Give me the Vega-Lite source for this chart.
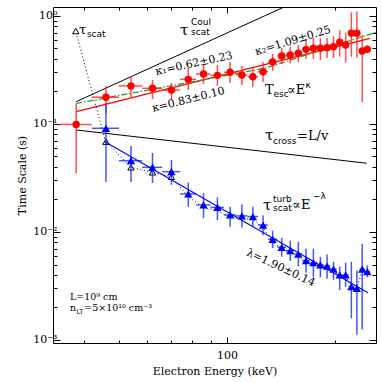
{
  "$schema": "https://vega.github.io/schema/vega-lite/v6.json",
  "width": 323,
  "height": 336,
  "autosize": "none",
  "padding": {"left": 53, "top": 7, "right": 6, "bottom": 39},
  "background": "white",
  "config": {
    "view": {"stroke": "#000", "strokeWidth": 1},
    "axis": {"grid": false, "domain": false, "tickColor": "#000", "labelColor": "#000", "titleColor": "#000", "labelFont": "DejaVu Serif", "titleFont": "DejaVu Serif", "labelFontSize": 11, "titleFontSize": 11, "titleFontWeight": "normal", "tickWidth": 1}
  },
  "datasets": {
    "red": [
      {"E":38,"T":0.099,"lo":0.035,"hi":0.156,"elo":34,"ehi":42},
      {"E":46,"T":0.177,"lo":0.125,"hi":0.225,"elo":42,"ehi":50},
      {"E":54,"T":0.225,"lo":0.178,"hi":0.278,"elo":50,"ehi":58},
      {"E":62,"T":0.214,"lo":0.170,"hi":0.256,"elo":58,"ehi":66},
      {"E":70,"T":0.206,"lo":0.167,"hi":0.240,"elo":66,"ehi":74},
      {"E":78,"T":0.259,"lo":0.206,"hi":0.330,"elo":74,"ehi":82},
      {"E":86,"T":0.290,"lo":0.235,"hi":0.360,"elo":82,"ehi":90},
      {"E":94,"T":0.282,"lo":0.225,"hi":0.350,"elo":90,"ehi":98},
      {"E":102,"T":0.301,"lo":0.240,"hi":0.375,"elo":98,"ehi":106},
      {"E":110,"T":0.284,"lo":0.230,"hi":0.345,"elo":106,"ehi":114},
      {"E":118,"T":0.274,"lo":0.220,"hi":0.337,"elo":114,"ehi":122},
      {"E":126,"T":0.305,"lo":0.245,"hi":0.375,"elo":122,"ehi":130},
      {"E":134,"T":0.375,"lo":0.310,"hi":0.445,"elo":130,"ehi":138},
      {"E":142,"T":0.426,"lo":0.360,"hi":0.505,"elo":138,"ehi":146},
      {"E":150,"T":0.435,"lo":0.365,"hi":0.515,"elo":146,"ehi":154},
      {"E":158,"T":0.451,"lo":0.375,"hi":0.540,"elo":154,"ehi":162},
      {"E":166,"T":0.491,"lo":0.400,"hi":0.600,"elo":162,"ehi":170},
      {"E":174,"T":0.502,"lo":0.400,"hi":0.625,"elo":170,"ehi":178},
      {"E":182,"T":0.502,"lo":0.390,"hi":0.625,"elo":178,"ehi":186},
      {"E":190,"T":0.509,"lo":0.410,"hi":0.625,"elo":186,"ehi":194},
      {"E":198,"T":0.520,"lo":0.410,"hi":0.650,"elo":194,"ehi":202},
      {"E":206,"T":0.571,"lo":0.420,"hi":0.740,"elo":202,"ehi":210},
      {"E":214,"T":0.539,"lo":0.370,"hi":0.700,"elo":210,"ehi":218},
      {"E":222,"T":0.691,"lo":0.420,"hi":1.080,"elo":218,"ehi":226},
      {"E":230,"T":0.691,"lo":0.410,"hi":1.100,"elo":226,"ehi":234},
      {"E":238,"T":0.474,"lo":0.160,"hi":0.667,"elo":234,"ehi":242},
      {"E":246,"T":0.491,"lo":0.455,"hi":0.540,"elo":242,"ehi":250}
    ],
    "blue": [
      {"E":46,"T":0.0912,"lo":0.029,"hi":0.156,"elo":42,"ehi":50},
      {"E":54,"T":0.0457,"lo":0.029,"hi":0.0625,"elo":50,"ehi":58},
      {"E":62,"T":0.0397,"lo":0.0284,"hi":0.054,"elo":58,"ehi":66},
      {"E":70,"T":0.0362,"lo":0.0273,"hi":0.0464,"elo":66,"ehi":74},
      {"E":78,"T":0.0225,"lo":0.0171,"hi":0.0287,"elo":74,"ehi":82},
      {"E":86,"T":0.0178,"lo":0.0135,"hi":0.0229,"elo":82,"ehi":90},
      {"E":94,"T":0.0169,"lo":0.0129,"hi":0.021,"elo":90,"ehi":98},
      {"E":102,"T":0.0144,"lo":0.0112,"hi":0.0171,"elo":98,"ehi":106},
      {"E":110,"T":0.0141,"lo":0.011,"hi":0.018,"elo":106,"ehi":114},
      {"E":118,"T":0.0139,"lo":0.0112,"hi":0.0171,"elo":114,"ehi":122},
      {"E":126,"T":0.0116,"lo":0.0094,"hi":0.0143,"elo":122,"ehi":130},
      {"E":134,"T":0.00856,"lo":0.0071,"hi":0.0103,"elo":130,"ehi":138},
      {"E":142,"T":0.00722,"lo":0.0059,"hi":0.0088,"elo":138,"ehi":146},
      {"E":150,"T":0.00671,"lo":0.0054,"hi":0.0083,"elo":146,"ehi":154},
      {"E":158,"T":0.00625,"lo":0.0048,"hi":0.0081,"elo":154,"ehi":162},
      {"E":166,"T":0.00542,"lo":0.0042,"hi":0.007,"elo":162,"ehi":170},
      {"E":174,"T":0.0052,"lo":0.0038,"hi":0.007,"elo":170,"ehi":178},
      {"E":182,"T":0.00495,"lo":0.0038,"hi":0.0059,"elo":178,"ehi":186},
      {"E":190,"T":0.00484,"lo":0.0037,"hi":0.0062,"elo":186,"ehi":194},
      {"E":198,"T":0.00452,"lo":0.0036,"hi":0.0053,"elo":194,"ehi":202},
      {"E":206,"T":0.0040,"lo":0.0029,"hi":0.0048,"elo":202,"ehi":210},
      {"E":214,"T":0.0040,"lo":0.0031,"hi":0.0052,"elo":210,"ehi":218},
      {"E":222,"T":0.00312,"lo":0.00159,"hi":0.0053,"elo":218,"ehi":226},
      {"E":230,"T":0.00301,"lo":0.00112,"hi":0.0044,"elo":226,"ehi":234},
      {"E":238,"T":0.00452,"lo":0.00125,"hi":0.0078,"elo":234,"ehi":242},
      {"E":246,"T":0.0043,"lo":0.0038,"hi":0.0049,"elo":242,"ehi":250}
    ],
    "open": [
      {"E":46,"T":0.0686},{"E":54,"T":0.0397},{"E":62,"T":0.0357},{"E":70,"T":0.0325},
      {"E":78,"T":0.0212},{"E":86,"T":0.0168},{"E":94,"T":0.0158},{"E":102,"T":0.0136},
      {"E":110,"T":0.0133},{"E":118,"T":0.0131},{"E":126,"T":0.0110},{"E":134,"T":0.0081},
      {"E":142,"T":0.0069},{"E":150,"T":0.0064},{"E":158,"T":0.0060},{"E":166,"T":0.0052},
      {"E":174,"T":0.0050},{"E":182,"T":0.0048},{"E":190,"T":0.0047},{"E":198,"T":0.0044},
      {"E":206,"T":0.0039},{"E":214,"T":0.0039},{"E":222,"T":0.0031},{"E":230,"T":0.0030},
      {"E":238,"T":0.0044},{"E":246,"T":0.0042}
    ],
    "fits": [
      {"s":"coul","E":38,"T":0.161},{"s":"coul","E":148,"T":1.26},
      {"s":"cross","E":38,"T":0.088},{"s":"cross","E":245,"T":0.0433},
      {"s":"red","E":38,"T":0.130},{"s":"red","E":250,"T":0.621},
      {"s":"green","E":38,"T":0.155},{"s":"green","E":128,"T":0.329},{"s":"green","E":260,"T":0.707},
      {"s":"blue","E":45.7,"T":0.0686},{"s":"blue","E":247,"T":0.00274},
      {"s":"pointer","E":38.2,"T":0.65},{"s":"pointer","E":45.7,"T":0.072}
    ]
  },
  "resolve": {"axis": {"x": "independent", "y": "independent"}},
  "layer": [
    {
      "data": {"name": "fits"},
      "transform": [{"filter": "datum.s == 'coul' || datum.s == 'cross'"}],
      "mark": {"type": "line", "color": "#000", "strokeWidth": 1, "clip": true},
      "encoding": {
        "x": {"field": "E", "type": "quantitative", "scale": {"type": "log", "domain": [32.75, 260], "nice": false}, "axis": null},
        "y": {"field": "T", "type": "quantitative", "scale": {"type": "log", "domain": [0.000938, 1.211], "nice": false}, "axis": null},
        "detail": {"field": "s"}
      }
    },
    {
      "data": {"name": "fits"},
      "transform": [{"filter": "datum.s == 'pointer'"}],
      "mark": {"type": "line", "color": "#000", "strokeWidth": 1, "strokeDash": [1, 2.5], "clip": true},
      "encoding": {
        "x": {"field": "E", "type": "quantitative", "scale": {"type": "log", "domain": [32.75, 260], "nice": false}, "axis": null},
        "y": {"field": "T", "type": "quantitative", "scale": {"type": "log", "domain": [0.000938, 1.211], "nice": false}, "axis": null}
      }
    },
    {
      "data": {"name": "open"},
      "mark": {"type": "line", "color": "#000", "strokeWidth": 1, "strokeDash": [1, 2.5], "clip": true},
      "encoding": {
        "x": {"field": "E", "type": "quantitative", "scale": {"type": "log", "domain": [32.75, 260], "nice": false}, "axis": null},
        "y": {"field": "T", "type": "quantitative", "scale": {"type": "log", "domain": [0.000938, 1.211], "nice": false}, "axis": null}
      }
    },
    {
      "data": {"name": "open"},
      "transform": [{"filter": "datum.E < 75"}],
      "mark": {"type": "point", "shape": "triangle-up", "size": 40, "filled": false, "color": "#000", "strokeWidth": 1, "opacity": 1},
      "encoding": {
        "x": {"field": "E", "type": "quantitative", "scale": {"type": "log", "domain": [32.75, 260], "nice": false}, "axis": null},
        "y": {"field": "T", "type": "quantitative", "scale": {"type": "log", "domain": [0.000938, 1.211], "nice": false}, "axis": null}
      }
    },
    {
      "data": {"values": [{"E": 37.9, "T": 0.726}]},
      "mark": {"type": "point", "shape": "triangle-up", "size": 40, "filled": false, "color": "#000", "strokeWidth": 1, "opacity": 1},
      "encoding": {
        "x": {"field": "E", "type": "quantitative", "scale": {"type": "log", "domain": [32.75, 260], "nice": false}, "axis": null},
        "y": {"field": "T", "type": "quantitative", "scale": {"type": "log", "domain": [0.000938, 1.211], "nice": false}, "axis": null}
      }
    },
    {
      "data": {"name": "fits"},
      "transform": [{"filter": "datum.s == 'red'"}],
      "mark": {"type": "line", "color": "#ff0000", "strokeWidth": 1.2, "clip": true},
      "encoding": {
        "x": {"field": "E", "type": "quantitative", "scale": {"type": "log", "domain": [32.75, 260], "nice": false}, "axis": null},
        "y": {"field": "T", "type": "quantitative", "scale": {"type": "log", "domain": [0.000938, 1.211], "nice": false}, "axis": null}
      }
    },
    {
      "data": {"name": "fits"},
      "transform": [{"filter": "datum.s == 'green'"}],
      "mark": {"type": "line", "color": "#2e9b2e", "strokeWidth": 1.3, "strokeDash": [6, 2, 1.5, 2], "clip": true},
      "encoding": {
        "x": {"field": "E", "type": "quantitative", "scale": {"type": "log", "domain": [32.75, 260], "nice": false}, "axis": null},
        "y": {"field": "T", "type": "quantitative", "scale": {"type": "log", "domain": [0.000938, 1.211], "nice": false}, "axis": null}
      }
    },
    {
      "data": {"name": "red"},
      "mark": {"type": "rule", "color": "#ff2020", "strokeWidth": 1.5, "opacity": 0.8, "clip": true},
      "encoding": {
        "x": {"field": "E", "type": "quantitative", "scale": {"type": "log", "domain": [32.75, 260], "nice": false}, "axis": null},
        "y": {"field": "lo", "type": "quantitative", "scale": {"type": "log", "domain": [0.000938, 1.211], "nice": false}, "axis": null},
        "y2": {"field": "hi"}
      }
    },
    {
      "data": {"name": "red"},
      "mark": {"type": "rule", "color": "#ff2020", "strokeWidth": 1.5, "opacity": 0.8, "clip": true},
      "encoding": {
        "x": {"field": "elo", "type": "quantitative", "scale": {"type": "log", "domain": [32.75, 260], "nice": false}, "axis": null},
        "x2": {"field": "ehi"},
        "y": {"field": "T", "type": "quantitative", "scale": {"type": "log", "domain": [0.000938, 1.211], "nice": false}, "axis": null}
      }
    },
    {
      "data": {"name": "red"},
      "mark": {"type": "point", "shape": "circle", "size": 55, "filled": true, "color": "#ff0000", "opacity": 1},
      "encoding": {
        "x": {"field": "E", "type": "quantitative", "scale": {"type": "log", "domain": [32.75, 260], "nice": false}, "axis": null},
        "y": {"field": "T", "type": "quantitative", "scale": {"type": "log", "domain": [0.000938, 1.211], "nice": false}, "axis": null}
      }
    },
    {
      "data": {"name": "blue"},
      "mark": {"type": "rule", "color": "#1030ff", "strokeWidth": 1.5, "opacity": 0.8, "clip": true},
      "encoding": {
        "x": {"field": "E", "type": "quantitative", "scale": {"type": "log", "domain": [32.75, 260], "nice": false}, "axis": null},
        "y": {"field": "lo", "type": "quantitative", "scale": {"type": "log", "domain": [0.000938, 1.211], "nice": false}, "axis": null},
        "y2": {"field": "hi"}
      }
    },
    {
      "data": {"name": "blue"},
      "mark": {"type": "rule", "color": "#1030ff", "strokeWidth": 1.5, "opacity": 0.8, "clip": true},
      "encoding": {
        "x": {"field": "elo", "type": "quantitative", "scale": {"type": "log", "domain": [32.75, 260], "nice": false}, "axis": null},
        "x2": {"field": "ehi"},
        "y": {"field": "T", "type": "quantitative", "scale": {"type": "log", "domain": [0.000938, 1.211], "nice": false}, "axis": null}
      }
    },
    {
      "data": {"name": "fits"},
      "transform": [{"filter": "datum.s == 'blue'"}],
      "mark": {"type": "line", "color": "#0000ff", "strokeWidth": 1.1, "clip": true},
      "encoding": {
        "x": {"field": "E", "type": "quantitative", "scale": {"type": "log", "domain": [32.75, 260], "nice": false}, "axis": null},
        "y": {"field": "T", "type": "quantitative", "scale": {"type": "log", "domain": [0.000938, 1.211], "nice": false}, "axis": null}
      }
    },
    {
      "data": {"name": "blue"},
      "mark": {"type": "point", "shape": "triangle-up", "size": 70, "filled": true, "color": "#0000ff", "opacity": 1},
      "encoding": {
        "x": {"field": "E", "type": "quantitative", "scale": {"type": "log", "domain": [32.75, 260], "nice": false}, "axis": null},
        "y": {"field": "T", "type": "quantitative", "scale": {"type": "log", "domain": [0.000938, 1.211], "nice": false}, "axis": null}
      }
    },
    {
      "data": {"values": [
        {"txt": "τ", "E": 74.0, "T": 0.667},
        {"txt": "τ", "E": 127.6, "T": 0.0711},
        {"txt": "τ", "E": 125.9, "T": 0.01599}
      ]},
      "mark": {"type": "text", "font": "DejaVu Serif", "fontSize": 15, "align": "left", "baseline": "alphabetic", "color": "#000"},
      "encoding": {
        "x": {"field": "E", "type": "quantitative", "scale": {"type": "log", "domain": [32.75, 260], "nice": false}, "axis": null},
        "y": {"field": "T", "type": "quantitative", "scale": {"type": "log", "domain": [0.000938, 1.211], "nice": false}, "axis": null},
        "text": {"field": "txt"}
      }
    },
    {
      "data": {"values": [
        {"txt": "τ", "E": 38.7, "T": 0.681}
      ]},
      "mark": {"type": "text", "font": "DejaVu Serif", "fontSize": 13, "align": "left", "baseline": "alphabetic", "color": "#000"},
      "encoding": {
        "x": {"field": "E", "type": "quantitative", "scale": {"type": "log", "domain": [32.75, 260], "nice": false}, "axis": null},
        "y": {"field": "T", "type": "quantitative", "scale": {"type": "log", "domain": [0.000938, 1.211], "nice": false}, "axis": null},
        "text": {"field": "txt"}
      }
    },
    {
      "data": {"values": [
        {"txt": "T", "E": 127.6, "T": 0.1896},
        {"txt": "∝E", "E": 146.9, "T": 0.1896},
        {"txt": "=L/v", "E": 156.7, "T": 0.0711},
        {"txt": "∝E", "E": 151.8, "T": 0.01633}
      ]},
      "mark": {"type": "text", "font": "DejaVu Serif", "fontSize": 13, "align": "left", "baseline": "alphabetic", "color": "#000"},
      "encoding": {
        "x": {"field": "E", "type": "quantitative", "scale": {"type": "log", "domain": [32.75, 260], "nice": false}, "axis": null},
        "y": {"field": "T", "type": "quantitative", "scale": {"type": "log", "domain": [0.000938, 1.211], "nice": false}, "axis": null},
        "text": {"field": "txt"}
      }
    },
    {
      "data": {"values": [
        {"txt": "Coul", "E": 79.4, "T": 0.825},
        {"txt": "scat", "E": 79.4, "T": 0.667},
        {"txt": "esc", "E": 134.7, "T": 0.178},
        {"txt": "κ", "E": 165.4, "T": 0.2154},
        {"txt": "cross", "E": 134.3, "T": 0.0653},
        {"txt": "turb", "E": 134.3, "T": 0.01896},
        {"txt": "scat", "E": 134.3, "T": 0.01564},
        {"txt": "−λ", "E": 173.5, "T": 0.0202},
        {"txt": "scat", "E": 40.7, "T": 0.639}
      ]},
      "mark": {"type": "text", "font": "DejaVu Sans", "fontSize": 9, "align": "left", "baseline": "alphabetic", "color": "#000"},
      "encoding": {
        "x": {"field": "E", "type": "quantitative", "scale": {"type": "log", "domain": [32.75, 260], "nice": false}, "axis": null},
        "y": {"field": "T", "type": "quantitative", "scale": {"type": "log", "domain": [0.000938, 1.211], "nice": false}, "axis": null},
        "text": {"field": "txt"}
      }
    },
    {
      "data": {"values": [
        {"txt": "L=10⁹ cm", "E": 36.5, "T": 0.00234},
        {"txt": "n", "E": 36.5, "T": 0.001857},
        {"txt": "=5×10¹⁰ cm⁻³", "E": 40.0, "T": 0.001857}
      ]},
      "mark": {"type": "text", "font": "DejaVu Serif", "fontSize": 9.5, "align": "left", "baseline": "alphabetic", "color": "#000"},
      "encoding": {
        "x": {"field": "E", "type": "quantitative", "scale": {"type": "log", "domain": [32.75, 260], "nice": false}, "axis": null},
        "y": {"field": "T", "type": "quantitative", "scale": {"type": "log", "domain": [0.000938, 1.211], "nice": false}, "axis": null},
        "text": {"field": "txt"}
      }
    },
    {
      "data": {"values": [
        {"txt": "LT", "E": 38.1, "T": 0.00174}
      ]},
      "mark": {"type": "text", "font": "DejaVu Sans", "fontSize": 6.5, "align": "left", "baseline": "alphabetic", "color": "#000"},
      "encoding": {
        "x": {"field": "E", "type": "quantitative", "scale": {"type": "log", "domain": [32.75, 260], "nice": false}, "axis": null},
        "y": {"field": "T", "type": "quantitative", "scale": {"type": "log", "domain": [0.000938, 1.211], "nice": false}, "axis": null},
        "text": {"field": "txt"}
      }
    },
    {
      "data": {"values": [
        {"txt": "κ₁=0.62±0.23", "E": 80.9, "T": 0.36}
      ]},
      "mark": {"type": "text", "font": "DejaVu Serif", "fontSize": 11, "align": "center", "baseline": "middle", "angle": 348, "color": "#000"},
      "encoding": {
        "x": {"field": "E", "type": "quantitative", "scale": {"type": "log", "domain": [32.75, 260], "nice": false}, "axis": null},
        "y": {"field": "T", "type": "quantitative", "scale": {"type": "log", "domain": [0.000938, 1.211], "nice": false}, "axis": null},
        "text": {"field": "txt"}
      }
    },
    {
      "data": {"values": [
        {"txt": "κ=0.83±0.10", "E": 78.1, "T": 0.167}
      ]},
      "mark": {"type": "text", "font": "DejaVu Serif", "fontSize": 11, "align": "center", "baseline": "middle", "angle": 346, "color": "#000"},
      "encoding": {
        "x": {"field": "E", "type": "quantitative", "scale": {"type": "log", "domain": [32.75, 260], "nice": false}, "axis": null},
        "y": {"field": "T", "type": "quantitative", "scale": {"type": "log", "domain": [0.000938, 1.211], "nice": false}, "axis": null},
        "text": {"field": "txt"}
      }
    },
    {
      "data": {"values": [
        {"txt": "κ₂=1.09±0.25", "E": 152.7, "T": 0.587}
      ]},
      "mark": {"type": "text", "font": "DejaVu Serif", "fontSize": 11, "align": "center", "baseline": "middle", "angle": 343, "color": "#000"},
      "encoding": {
        "x": {"field": "E", "type": "quantitative", "scale": {"type": "log", "domain": [32.75, 260], "nice": false}, "axis": null},
        "y": {"field": "T", "type": "quantitative", "scale": {"type": "log", "domain": [0.000938, 1.211], "nice": false}, "axis": null},
        "text": {"field": "txt"}
      }
    },
    {
      "data": {"values": [
        {"txt": "λ=1.90±0.14", "E": 141.0, "T": 0.00465}
      ]},
      "mark": {"type": "text", "font": "DejaVu Serif", "fontSize": 11, "align": "center", "baseline": "middle", "angle": 25, "color": "#000"},
      "encoding": {
        "x": {"field": "E", "type": "quantitative", "scale": {"type": "log", "domain": [32.75, 260], "nice": false}, "axis": null},
        "y": {"field": "T", "type": "quantitative", "scale": {"type": "log", "domain": [0.000938, 1.211], "nice": false}, "axis": null},
        "text": {"field": "txt"}
      }
    },
    {
      "data": {"name": "red"},
      "mark": {"type": "point", "opacity": 0},
      "encoding": {
        "x": {"field": "E", "type": "quantitative", "scale": {"type": "log", "domain": [32.75, 260], "nice": false},
              "axis": {"orient": "bottom", "values": [100], "tickSize": -6, "labelExpr": "'100'", "labelPadding": 12, "title": "Electron Energy (keV)", "titlePadding": 5}},
        "y": {"field": "T", "type": "quantitative", "scale": {"type": "log", "domain": [0.000938, 1.211], "nice": false},
              "axis": {"orient": "left", "values": [0.001, 0.01, 0.1, 1], "tickSize": -7, "labelPadding": 3, "labelExpr": "datum.value > 0.5 ? '10⁰' : datum.value > 0.05 ? '10⁻¹' : datum.value > 0.005 ? '10⁻²' : '10⁻³'", "title": "Time Scale (s)", "titlePadding": 5}}
      }
    },
    {
      "data": {"name": "red"},
      "mark": {"type": "point", "opacity": 0},
      "encoding": {
        "x": {"field": "E", "type": "quantitative", "scale": {"type": "log", "domain": [32.75, 260], "nice": false},
              "axis": {"orient": "bottom", "values": [40, 50, 60, 70, 80, 90, 200], "tickSize": -3, "labels": false, "title": null}},
        "y": {"field": "T", "type": "quantitative", "scale": {"type": "log", "domain": [0.000938, 1.211], "nice": false},
              "axis": {"orient": "left", "values": [0.002,0.003,0.004,0.005,0.006,0.007,0.008,0.009,0.02,0.03,0.04,0.05,0.06,0.07,0.08,0.09,0.2,0.3,0.4,0.5,0.6,0.7,0.8,0.9], "tickSize": -4, "labels": false, "title": null}}
      }
    },
    {
      "data": {"name": "red"},
      "mark": {"type": "point", "opacity": 0},
      "encoding": {
        "x": {"field": "E", "type": "quantitative", "scale": {"type": "log", "domain": [32.75, 260], "nice": false},
              "axis": {"orient": "top", "values": [100], "tickSize": -6, "labels": false, "title": null}},
        "y": {"field": "T", "type": "quantitative", "scale": {"type": "log", "domain": [0.000938, 1.211], "nice": false},
              "axis": {"orient": "right", "values": [0.001, 0.01, 0.1, 1], "tickSize": -7, "labels": false, "title": null}}
      }
    },
    {
      "data": {"name": "red"},
      "mark": {"type": "point", "opacity": 0},
      "encoding": {
        "x": {"field": "E", "type": "quantitative", "scale": {"type": "log", "domain": [32.75, 260], "nice": false},
              "axis": {"orient": "top", "values": [40, 50, 60, 70, 80, 90, 200], "tickSize": -3, "labels": false, "title": null}},
        "y": {"field": "T", "type": "quantitative", "scale": {"type": "log", "domain": [0.000938, 1.211], "nice": false},
              "axis": {"orient": "right", "values": [0.002,0.003,0.004,0.005,0.006,0.007,0.008,0.009,0.02,0.03,0.04,0.05,0.06,0.07,0.08,0.09,0.2,0.3,0.4,0.5,0.6,0.7,0.8,0.9], "tickSize": -4, "labels": false, "title": null}}
      }
    }
  ]
}
